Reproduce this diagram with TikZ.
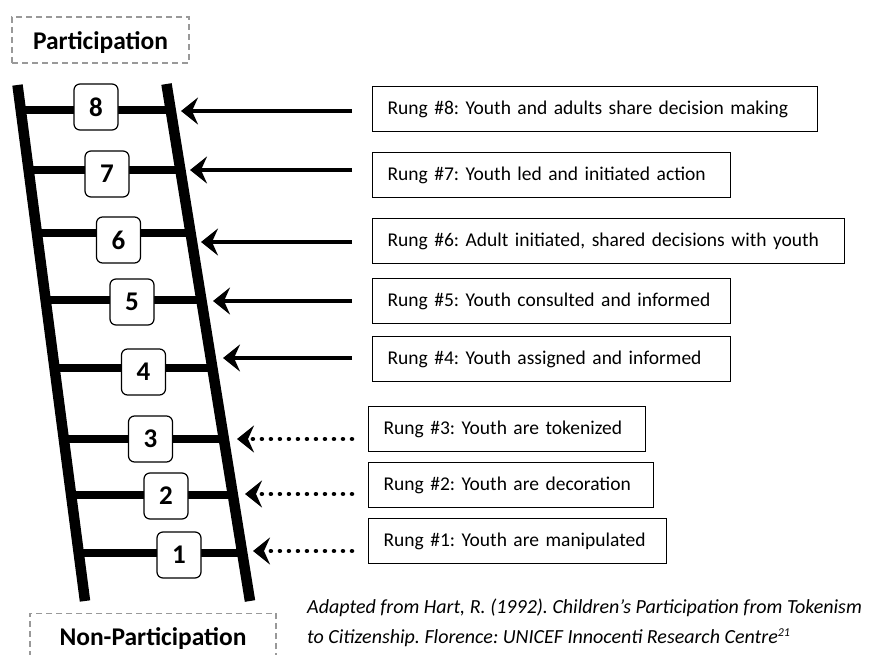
\documentclass[tikz,border=0pt]{standalone}
\usepackage{fontspec}
\setmainfont{Carlito}
\usetikzlibrary{arrows.meta}
\frenchspacing
\begin{document}
\begin{tikzpicture}[x=1pt,y=-1pt,
  rail/.style={line width=10.5pt},
  rungline/.style={line width=8pt},
  numbox/.style={draw, line width=1.2pt, rounded corners=6pt, fill=white,
    minimum width=44pt, minimum height=46pt, inner sep=0pt,
    font=\fontsize{27}{27}\selectfont\bfseries},
  rungbox/.style={draw, line width=1.2pt, anchor=north west, inner xsep=15pt,
    inner ysep=0pt, minimum height=45pt, text width=#1, align=left,
    font=\fontsize{19.5}{24}\selectfont\frenchspacing},
  dashbox/.style={draw=black!40, line width=1.5pt, dash pattern=on 6pt off 4pt,
    inner sep=0pt, font=\fontsize{25.5}{25.5}\selectfont\bfseries},
  solidarr/.style={line width=4.5pt, -{Stealth[length=17pt,width=27pt,inset=6pt]}},
  dotarr/.style={line width=4.5pt, line cap=round, dash pattern=on 0.01pt off 9pt,
    -{Stealth[length=17pt,width=27pt,inset=6pt]}}
]
\useasboundingbox (0,0) rectangle (873,655);

% rails
\coordinate (lt) at (17.5,85);
\coordinate (lb) at (85,601);
\coordinate (rt) at (166.5,84);
\coordinate (rb) at (250,601);

% rungs
\draw[rungline] (20.8,110) -- (170.7,110);
\draw[rungline] (28.6,170) -- (180.4,170);
\draw[rungline] (36.7,233) -- (190.6,233);
\draw[rungline] (45.5,300) -- (201.4,300);
\draw[rungline] (54.4,368) -- (212.4,368);
\draw[rungline] (63.8,439) -- (223.9,439);
\draw[rungline] (71.1,495) -- (232.9,495);
\draw[rungline] (78.7,553) -- (242.3,553);

\draw[rail] (lt) -- (lb);
\draw[rail] (rt) -- (rb);

% number boxes
\node[numbox] (n8) at (96,107) {8};
\node[numbox] (n7) at (107,174) {7};
\node[numbox] (n6) at (118.5,240) {6};
\node[numbox] (n5) at (132,302) {5};
\node[numbox] (n4) at (143.5,372) {4};
\node[numbox] (n3) at (150.5,439) {3};
\node[numbox] (n2) at (166,496) {2};
\node[numbox] (n1) at (179,555) {1};

% labels
\node[dashbox, minimum width=177pt, minimum height=46pt, text height=19pt, text depth=0pt] (part) at (100.5,40) {Participation};
\node[dashbox, minimum width=246pt, minimum height=50pt, anchor=north] (nonpart) at (153,612.7) {Non-Participation};

% rung text boxes
\node[rungbox=415pt] (r8) at (372,86) {\mbox{Rung \#8: Youth and adults share decision making}};
\node[rungbox=328pt] (r7) at (372,152) {\mbox{Rung \#7: Youth led and initiated action}};
\node[rungbox=442pt] (r6) at (372,218) {\mbox{Rung \#6: Adult initiated, shared decisions with youth}};
\node[rungbox=328pt] (r5) at (372,278) {\mbox{Rung \#5: Youth consulted and informed}};
\node[rungbox=328pt] (r4) at (372,336) {\mbox{Rung \#4: Youth assigned and informed}};
\node[rungbox=247pt] (r3) at (368,406) {\mbox{Rung \#3: Youth are tokenized}};
\node[rungbox=255pt] (r2) at (368,462) {\mbox{Rung \#2: Youth are decoration}};
\node[rungbox=268pt] (r1) at (368,518) {\mbox{Rung \#1: Youth are manipulated}};

% arrow ends
\coordinate (a8) at (352,111); \coordinate (p8) at (181,111);
\coordinate (a7) at (352,170); \coordinate (p7) at (190,170);
\coordinate (a6) at (352,242); \coordinate (p6) at (201,242);
\coordinate (a5) at (352,301); \coordinate (p5) at (213,301);
\coordinate (a4) at (352,358); \coordinate (p4) at (223,358);
\coordinate (a3) at (352,439); \coordinate (p3) at (237,439);
\coordinate (a2) at (352,494); \coordinate (p2) at (245,494);
\coordinate (a1) at (352,551); \coordinate (p1) at (253,551);

\draw[solidarr] (a8) -- (p8);
\draw[solidarr] (a7) -- (p7);
\draw[solidarr] (a6) -- (p6);
\draw[solidarr] (a5) -- (p5);
\draw[solidarr] (a4) -- (p4);
\draw[dotarr] (a3) -- (p3);
\draw[dotarr] (a2) -- (p2);
\draw[dotarr] (a1) -- (p1);

% caption
\node[anchor=west, inner sep=0pt, align=left, font=\fontsize{20}{30}\selectfont\itshape\frenchspacing] (cap) at (307,623)
  {Adapted from Hart, R. (1992). Children’s Participation from Tokenism\\
   to Citizenship. Florence: UNICEF Innocenti Research Centre\textsuperscript{\fontsize{12}{12}\selectfont 21}};
\end{tikzpicture}
\end{document}
